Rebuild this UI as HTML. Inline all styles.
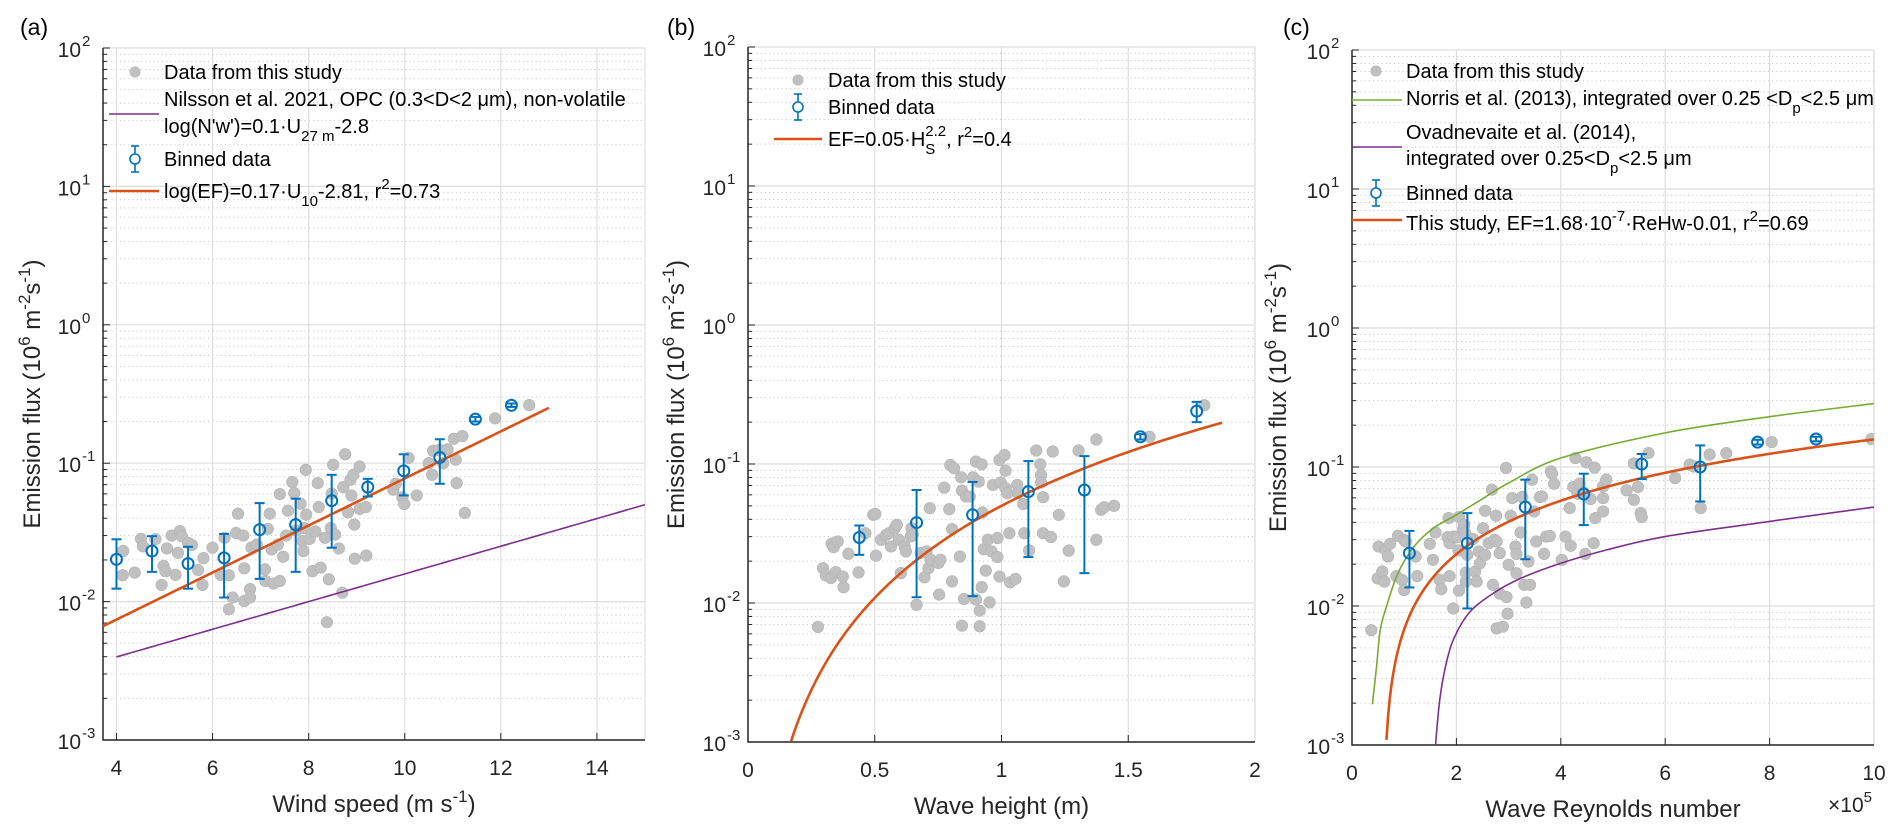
<!DOCTYPE html>
<html><head><meta charset="utf-8"><title>Emission flux charts</title>
<style>
html,body{margin:0;padding:0;background:#fff;}
svg{display:block;font-family:"Liberation Sans",Arial,sans-serif;}
</style></head>
<body>
<svg id="fig" width="1903" height="836" viewBox="0 0 1903 836" xmlns="http://www.w3.org/2000/svg"></svg>
<script>
// ---------- Panel (a) data: wind speed ----------
const aScatterX=[4.13,4.14,4.38,4.51,4.55,4.81,4.94,4.98,5.02,5.05,5.15,5.23,5.28,5.32,5.36,5.49,5.57,5.70,5.79,5.81,6.0,6.17,6.25,6.34,6.34,6.42,6.49,6.53,6.64,6.66,6.66,6.78,6.78,6.81,6.92,7.09,7.10,7.15,7.19,7.23,7.27,7.36,7.40,7.40,7.47,7.53,7.57,7.66,7.70,7.74,7.83,7.87,7.89,7.91,7.94,7.95,8.02,8.08,8.14,8.19,8.21,8.25,8.34,8.38,8.42,8.46,8.48,8.51,8.55,8.63,8.70,8.72,8.76,8.82,8.87,8.89,8.93,8.95,8.96,9.06,9.06,9.19,9.20,9.76,9.81,9.95,9.99,10.08,10.25,10.5,10.57,10.59,10.72,10.80,10.89,11.02,11.06,11.08,11.2,11.25,11.88,12.59];
const aScatterY=[0.0155,0.0232,0.0162,0.0284,0.0251,0.0282,0.0132,0.0181,0.0166,0.0242,0.030,0.0156,0.0225,0.0323,0.0297,0.0266,0.0256,0.0169,0.0132,0.0206,0.0245,0.0156,0.0289,0.0155,0.0088,0.0107,0.0313,0.0432,0.030,0.0174,0.0101,0.0123,0.0107,0.0246,0.0258,0.0171,0.0141,0.0335,0.0432,0.0238,0.0135,0.0258,0.0598,0.0141,0.0211,0.030,0.0454,0.073,0.0608,0.0326,0.051,0.0273,0.0232,0.034,0.0895,0.0425,0.0284,0.0166,0.0321,0.0718,0.0482,0.0176,0.0289,0.0071,0.0145,0.034,0.0602,0.0973,0.0305,0.0242,0.0116,0.0672,0.116,0.0442,0.0759,0.0585,0.0824,0.036,0.0204,0.0946,0.0467,0.0482,0.0215,0.0643,0.071,0.0566,0.0507,0.109,0.0585,0.1,0.0824,0.123,0.125,0.1,0.126,0.150,0.106,0.0718,0.157,0.0437,0.211,0.263];
const aBinX=[4.0,4.74,5.49,6.24,6.98,7.73,8.48,9.23,9.98,10.73,11.47,12.22];
const aBinY=[0.0202,0.0232,0.0188,0.0207,0.0331,0.036,0.0536,0.0672,0.0881,0.110,0.208,0.262];
const aBinLo=[0.0124,0.0164,0.0124,0.0107,0.0146,0.0164,0.0245,0.0575,0.0585,0.0710,0.200,0.255];
const aBinHi=[0.0282,0.0297,0.0249,0.0308,0.0515,0.0554,0.0824,0.0771,0.116,0.149,0.216,0.270];
const aFitCoef=[0.17,-2.81];      // log10(EF)=0.17*U-2.81
const aFitRange=[3.72,13.0];
const aNilCoef=[0.1,-2.8];        // log10(N'w')=0.1*U-2.8
const aNilRange=[4.0,15.0];
const aXTicks=[4,6,8,10,12,14];

// ---------- Panel (b) data: wave height ----------
const bScatterX=[0.276,0.296,0.307,0.327,0.330,0.338,0.346,0.354,0.374,0.377,0.396,0.436,0.463,0.494,0.502,0.505,0.525,0.545,0.556,0.564,0.579,0.587,0.595,0.603,0.618,0.623,0.642,0.645,0.650,0.665,0.681,0.696,0.704,0.712,0.717,0.720,0.751,0.754,0.759,0.774,0.794,0.798,0.805,0.805,0.813,0.836,0.841,0.844,0.844,0.852,0.860,0.875,0.888,0.899,0.899,0.910,0.914,0.914,0.922,0.922,0.925,0.930,0.938,0.946,0.961,0.966,0.953,0.984,0.984,0.992,0.992,0.997,1.012,1.016,1.016,1.023,1.031,1.034,1.055,1.062,1.065,1.086,1.090,1.109,1.137,1.153,1.156,1.156,1.164,1.164,1.195,1.202,1.226,1.246,1.265,1.304,1.374,1.374,1.393,1.405,1.444,1.584,1.80];
const bScatterY=[0.00673,0.0178,0.0158,0.0151,0.0267,0.0252,0.0167,0.0277,0.0155,0.0130,0.0226,0.0166,0.0318,0.0431,0.0438,0.0219,0.0285,0.0309,0.0318,0.0255,0.0345,0.0365,0.0285,0.0164,0.0255,0.0235,0.0301,0.0345,0.0309,0.0097,0.0229,0.0153,0.0235,0.0178,0.0481,0.0205,0.0194,0.0115,0.0205,0.0676,0.0473,0.0984,0.034,0.0143,0.0931,0.0216,0.0802,0.0644,0.00687,0.0107,0.0583,0.0583,0.0802,0.104,0.0106,0.0747,0.0068,0.0088,0.0995,0.0130,0.0448,0.0244,0.0171,0.0285,0.0235,0.0707,0.0101,0.0293,0.0214,0.107,0.0155,0.0735,0.116,0.0896,0.0669,0.0616,0.0318,0.0141,0.0149,0.0707,0.0616,0.0516,0.0318,0.0239,0.125,0.0995,0.0834,0.0735,0.0318,0.0577,0.0298,0.123,0.0431,0.0143,0.0238,0.125,0.0285,0.150,0.0468,0.0489,0.0500,0.157,0.265];
const bBinX=[0.439,0.665,0.886,1.106,1.327,1.548,1.77];
const bBinY=[0.0296,0.0379,0.0431,0.0633,0.065,0.157,0.24];
const bBinLo=[0.0222,0.011,0.0112,0.0214,0.0164,0.150,0.20];
const bBinHi=[0.0361,0.065,0.0743,0.105,0.114,0.164,0.28];
const bFitCoef=[0.05,2.2];        // EF=0.05*Hs^2.2
const bFitRange=[0.17,1.87];
const bXTicks=[0,0.5,1,1.5,2];

// ---------- Panel (c) data: wave Reynolds number (x1e5) ----------
const cScatterX=[0.37,0.51,0.49,0.58,0.62,0.64,0.69,0.73,0.85,0.88,0.96,1.00,1.00,1.03,1.22,1.25,1.49,1.55,1.60,1.68,1.71,1.83,1.85,1.87,1.87,1.94,1.94,2.02,2.04,2.05,2.05,2.13,2.15,2.17,2.18,2.18,2.21,2.32,2.36,2.39,2.43,2.45,2.51,2.55,2.55,2.62,2.68,2.70,2.73,2.76,2.77,2.83,2.83,2.77,2.89,2.95,2.96,2.98,3.00,3.04,3.07,3.13,3.15,3.15,3.23,3.26,3.30,3.34,3.38,3.41,3.45,3.49,3.53,3.60,3.64,3.68,3.72,3.79,3.81,3.83,3.87,4.02,4.09,4.17,4.19,4.24,4.28,4.32,4.36,4.43,4.47,4.49,4.57,4.63,4.65,4.66,4.81,4.81,4.81,4.87,5.26,5.40,5.40,5.48,5.53,5.55,5.68,6.19,6.47,6.55,6.68,6.85,7.17,8.04,9.95];
const cScatterY=[0.0067,0.0268,0.0158,0.0177,0.015,0.0254,0.0227,0.028,0.0164,0.032,0.0154,0.013,0.0299,0.0291,0.0227,0.0164,0.028,0.0215,0.0338,0.0154,0.0132,0.0313,0.0429,0.0164,0.0283,0.0316,0.0096,0.0313,0.0251,0.0436,0.0129,0.0357,0.0384,0.0334,0.015,0.0174,0.0233,0.0303,0.0177,0.015,0.0247,0.0203,0.0363,0.0484,0.0233,0.0283,0.0687,0.0142,0.0299,0.0446,0.0291,0.024,0.0123,0.0069,0.0071,0.0984,0.0116,0.0088,0.0198,0.0446,0.0598,0.0268,0.0172,0.0237,0.0338,0.0608,0.0142,0.0106,0.0209,0.0142,0.0811,0.0479,0.0291,0.0608,0.0614,0.0237,0.0316,0.0319,0.0931,0.0895,0.0759,0.0215,0.0316,0.0506,0.0271,0.0718,0.116,0.0643,0.0759,0.0657,0.0237,0.108,0.0588,0.0283,0.0989,0.0429,0.0726,0.0598,0.0479,0.0811,0.0679,0.0581,0.106,0.0718,0.0466,0.0436,0.126,0.0833,0.104,0.101,0.0506,0.123,0.126,0.151,0.159];
const cBinX=[1.10,2.21,3.32,4.44,5.55,6.67,7.77,8.89];
const cBinY=[0.024,0.0283,0.0515,0.0639,0.105,0.1,0.151,0.159];
const cBinLo=[0.0136,0.0096,0.0217,0.0382,0.0819,0.0565,0.145,0.153];
const cBinHi=[0.0347,0.0466,0.0811,0.0895,0.124,0.143,0.157,0.165];
const cNorrisX=[0.39,0.47,0.54,0.66,0.88,1.19,1.56,2.0,2.47,3.0,4.0,6.0,8.0,10.0];
const cNorrisY=[0.00196,0.00365,0.0067,0.0099,0.0172,0.0268,0.0363,0.0453,0.0581,0.0767,0.116,0.176,0.23,0.286];
const cOvadX=[1.60,1.68,1.79,1.94,2.24,2.70,3.23,4.0,4.89,6.0,8.0,10.0];
const cOvadY=[0.001,0.0021,0.00365,0.0057,0.0089,0.0123,0.0158,0.0203,0.0254,0.0316,0.0406,0.0515];
const cFitCoef=[1.68e-7,-0.01];   // EF=1.68e-7*ReHw-0.01
const cFitRange=[0.66,10.0];
const cXTicks=[0,2,4,6,8,10];

const yDecades=[-3,-2,-1,0,1,2];

// ---------- drawing ----------
const NS="http://www.w3.org/2000/svg";
const svg=document.getElementById('fig');
function mk(tag,attrs,parent){const e=document.createElementNS(NS,tag);for(const k in attrs)e.setAttribute(k,attrs[k]);(parent||svg).appendChild(e);return e;}
const C={gray:'#c0c0c0',grayEdge:'#b3b3b3',blue:'#0072BD',orange:'#D95319',purple:'#7E2F8E',green:'#77AC30'};

function makePanel(p){
  const g=mk('g',{});
  
  
  const sx=v=>p.L+(v-p.xmin)/(p.xmax-p.xmin)*(p.R-p.L);
  const sy=v=>p.B-(Math.log10(v)+3)/5*(p.B-p.T);
  p.sx=sx;p.sy=sy;
  for(let d=-3;d<2;d++){for(let m=2;m<=9;m++){const y=sy(m*Math.pow(10,d));
    const l=mk('line',{x1:p.L,x2:p.R,y1:y,y2:y,stroke:'#c8c8c8','stroke-width':1,'stroke-dasharray':'1.2,3'},g);
    
    
    const t=mk('line',{x1:p.L,x2:p.L+4,y1:y,y2:y,stroke:'#262626','stroke-width':1},g);
    
    }}
  yDecades.forEach(d=>{const y=sy(Math.pow(10,d));
    const l=mk('line',{x1:p.L,x2:p.R,y1:y,y2:y,stroke:'#dedede','stroke-width':1.2},g);
    
    
    const tk=mk('line',{x1:p.L,x2:p.L+7,y1:y,y2:y,stroke:'#262626','stroke-width':1},g);
    
    
    const t=mk('text',{x:p.L-22,y:y+9,'font-size':21,'text-anchor':'end',fill:'#262626'},g);
    
    
    t.textContent='10';
    const s=mk('tspan',{x:p.L-21,dy:-11,'font-size':15,'text-anchor':'start'},t);s.textContent=String(d);
  });
  p.ticks.forEach(v=>{const x=sx(v);
    const l=mk('line',{x1:x,x2:x,y1:p.T,y2:p.B,stroke:'#dedede','stroke-width':1.2},g);
    
    
    const tk=mk('line',{x1:x,x2:x,y1:p.B,y2:p.B-7,stroke:'#262626','stroke-width':1},g);
    
    
    const t=mk('text',{x:x,y:p.B+35,'font-size':21,'text-anchor':'middle',fill:'#262626'},g);
    
    
    t.textContent=String(v);
  });
  const re=mk('line',{x1:p.R,x2:p.R,y1:p.T,y2:p.B,stroke:'#dedede','stroke-width':1.2},g);
  
  
  const ax=mk('path',{d:`M${p.L},${p.T} L${p.L},${p.B} L${p.R},${p.B}`,fill:'none',stroke:'#262626','stroke-width':1.5},g);
  
  
  const xt=mk('text',{x:(p.L+p.R)/2,y:p.B+72,'font-size':24,'text-anchor':'middle',fill:'#262626'},g);
  
  
  xt.innerHTML=p.xtitle;
  const yt=mk('text',{x:0,y:0,'font-size':24,'text-anchor':'middle',fill:'#262626',transform:`translate(${p.ylx},${(p.T+p.B)/2}) rotate(-90)`},g);
  
  
  yt.innerHTML='Emission flux (10<tspan font-size="17" dy="-10">6</tspan><tspan dy="10"> m</tspan><tspan font-size="17" dy="-10">-2</tspan><tspan dy="10">s</tspan><tspan font-size="17" dy="-10">-1</tspan><tspan dy="10">)</tspan>';
  const pl=mk('text',{x:p.plx,y:35,'font-size':23,fill:'#000'},g);
  
  
  pl.textContent=p.label;
  const cp=mk('clipPath',{id:'clip-'+p.name},g);
  mk('rect',{x:p.L,y:p.T,width:p.R-p.L,height:p.B-p.T},cp);
  p.plot=mk('g',{'clip-path':`url(#clip-${p.name})`},g);
  p.g=g;
  return p;
}
function scatter(p,xs,ys){xs.forEach((x,i)=>{const c=mk('circle',{cx:p.sx(x),cy:p.sy(ys[i]),r:5.8,fill:C.gray,stroke:C.grayEdge,'stroke-width':0.6},p.plot);
  
  });}
function binned(p,xs,ys,lo,hi){xs.forEach((x,i)=>{const X=p.sx(x);const g=mk('g',{},p.plot);
  
  
  const y1=p.sy(lo[i]),y2=p.sy(hi[i]);
  mk('line',{x1:X,x2:X,y1:y1,y2:y2,stroke:C.blue,'stroke-width':2},g);
  mk('line',{x1:X-5,x2:X+5,y1:y1,y2:y1,stroke:C.blue,'stroke-width':2},g);
  mk('line',{x1:X-5,x2:X+5,y1:y2,y2:y2,stroke:C.blue,'stroke-width':2},g);
  mk('circle',{cx:X,cy:p.sy(ys[i]),r:5.5,fill:'none',stroke:C.blue,'stroke-width':2},g);});}
function curve(p,fn,range,color,w,name){let d='';const n=300;for(let i=0;i<=n;i++){const x=range[0]+(range[1]-range[0])*i/n;const y=fn(x);if(!(y>0))continue;d+=(d?'L':'M')+p.sx(x).toFixed(2)+','+p.sy(y).toFixed(2);}
  const e=mk('path',{d:d,fill:'none',stroke:color,'stroke-width':w},p.plot);
  
  }
function poly(p,xs,ys,color,w,name){
  const P=xs.map((x,i)=>[p.sx(x),p.sy(ys[i])]);
  let d='M'+P[0][0].toFixed(2)+','+P[0][1].toFixed(2);
  for(let i=0;i<P.length-1;i++){const p0=P[Math.max(0,i-1)],p1=P[i],p2=P[i+1],p3=P[Math.min(P.length-1,i+2)];
    const c1=[p1[0]+(p2[0]-p0[0])/6,p1[1]+(p2[1]-p0[1])/6],c2=[p2[0]-(p3[0]-p1[0])/6,p2[1]-(p3[1]-p1[1])/6];
    d+=`C${c1[0].toFixed(2)},${c1[1].toFixed(2)} ${c2[0].toFixed(2)},${c2[1].toFixed(2)} ${p2[0].toFixed(2)},${p2[1].toFixed(2)}`;}
  const e=mk('path',{d:d,fill:'none',stroke:color,'stroke-width':w,'stroke-linejoin':'round'},p.plot);
  
  }
function legMarker(g,type,x,y,color){
  if(type==='dot'){mk('circle',{cx:x,cy:y,r:5.6,fill:C.gray},g);}
  else if(type==='err'){mk('line',{x1:x,x2:x,y1:y-13,y2:y+13,stroke:C.blue,'stroke-width':1.6},g);mk('line',{x1:x-4,x2:x+4,y1:y-13,y2:y-13,stroke:C.blue,'stroke-width':1.6},g);mk('line',{x1:x-4,x2:x+4,y1:y+13,y2:y+13,stroke:C.blue,'stroke-width':1.6},g);mk('circle',{cx:x,cy:y,r:5,fill:'#fff',stroke:C.blue,'stroke-width':1.6},g);}
}
function legLine(g,x1,x2,y,color,w){mk('line',{x1:x1,x2:x2,y1:y,y2:y,stroke:color,'stroke-width':w},g);}
function legText(g,x,y,html){const t=mk('text',{x:x,y:y+7,'font-size':20,fill:'#000'},g);t.innerHTML=html;return t;}
function legendGroup(p){const g=mk('g',{},p.g);
  
  return g;}

// ---------- Panel a ----------
const pa=makePanel({name:'panel-a-wind-speed',L:103,R:645,T:48,B:740,xmin:3.72,xmax:15,ticks:aXTicks,label:'(a)',plx:20,ylx:40,
  xtitle:'Wind speed (m s<tspan font-size="17" dy="-10">-1</tspan><tspan dy="10">)</tspan>'});
scatter(pa,aScatterX,aScatterY);
curve(pa,u=>Math.pow(10,aNilCoef[0]*u+aNilCoef[1]),aNilRange,C.purple,1.6,'nilsson-2021-line');
curve(pa,u=>Math.pow(10,aFitCoef[0]*u+aFitCoef[1]),aFitRange,C.orange,2.6,'fit-line');
binned(pa,aBinX,aBinY,aBinLo,aBinHi);
{const g=legendGroup(pa);
 legMarker(g,'dot',135,72);legText(g,164,72,'Data from this study');
 legLine(g,109,159,114,C.purple,1.6);
 legText(g,164,99,'Nilsson et al. 2021, OPC (0.3&lt;D&lt;2 μm), non-volatile');
 legText(g,164,126,'log(N\'w\')=0.1·U<tspan font-size="15" dy="8">27 m</tspan><tspan dy="-8">-2.8</tspan>');
 legMarker(g,'err',135,159);legText(g,164,159,'Binned data');
 legLine(g,109,159,191,C.orange,2.6);
 legText(g,164,191,'log(EF)=0.17·U<tspan font-size="15" dy="8">10</tspan><tspan dy="-8">-2.81, r</tspan><tspan font-size="15" dy="-9">2</tspan><tspan dy="9">=0.73</tspan>');}

// ---------- Panel b ----------
const pb=makePanel({name:'panel-b-wave-height',L:748,R:1255,T:47,B:742,xmin:0,xmax:2,ticks:bXTicks,label:'(b)',plx:667,ylx:684,
  xtitle:'Wave height (m)'});
scatter(pb,bScatterX,bScatterY);
curve(pb,h=>bFitCoef[0]*Math.pow(h,bFitCoef[1]),bFitRange,C.orange,2.6,'fit-curve');
binned(pb,bBinX,bBinY,bBinLo,bBinHi);
{const g=legendGroup(pb);
 legMarker(g,'dot',798,80);legText(g,828,80,'Data from this study');
 legMarker(g,'err',798,107);legText(g,828,107,'Binned data');
 legLine(g,774,822,139,C.orange,2.6);
 legText(g,828,139,'EF=0.05·H<tspan font-size="15" dy="8">S</tspan><tspan font-size="15" dx="-10" dy="-18">2.2</tspan><tspan dy="10">, r</tspan><tspan font-size="15" dy="-9">2</tspan><tspan dy="9">=0.4</tspan>');}

// ---------- Panel c ----------
const pc=makePanel({name:'panel-c-wave-reynolds',L:1352,R:1874,T:50,B:745,xmin:0,xmax:10,ticks:cXTicks,label:'(c)',plx:1283,ylx:1286,
  xtitle:'Wave Reynolds number'});
scatter(pc,cScatterX,cScatterY);
poly(pc,cNorrisX,cNorrisY,C.green,1.6,'norris-2013-curve');
poly(pc,cOvadX,cOvadY,C.purple,1.6,'ovadnevaite-2014-curve');
curve(pc,r=>cFitCoef[0]*r*1e5+cFitCoef[1],cFitRange,C.orange,2.6,'fit-curve');
binned(pc,cBinX,cBinY,cBinLo,cBinHi);
{const g=legendGroup(pc);
 legMarker(g,'dot',1376,71);legText(g,1406,71,'Data from this study');
 legLine(g,1352,1402,100,C.green,1.6);
 legText(g,1406,98,'Norris et al. (2013), integrated over 0.25 &lt;D<tspan font-size="15" dy="8">p</tspan><tspan dy="-8">&lt;2.5 μm</tspan>');
 legLine(g,1352,1402,147,C.purple,1.6);
 legText(g,1406,132,'Ovadnevaite et al. (2014),');
 legText(g,1406,158,'integrated over 0.25&lt;D<tspan font-size="15" dy="8">p</tspan><tspan dy="-8">&lt;2.5 μm</tspan>');
 legMarker(g,'err',1376,193);legText(g,1406,193,'Binned data');
 legLine(g,1352,1402,220,C.orange,2.6);
 legText(g,1406,223,'This study, EF=1.68·10<tspan font-size="15" dy="-9">-7</tspan><tspan dy="9">·ReHw-0.01, r</tspan><tspan font-size="15" dy="-9">2</tspan><tspan dy="9">=0.69</tspan>');
 const m=mk('text',{x:1828,y:812,'font-size':21,fill:'#262626'},pc.g);
 
 
 m.innerHTML='×10<tspan font-size="15" dy="-10">5</tspan>';}
</script>
</body></html>
